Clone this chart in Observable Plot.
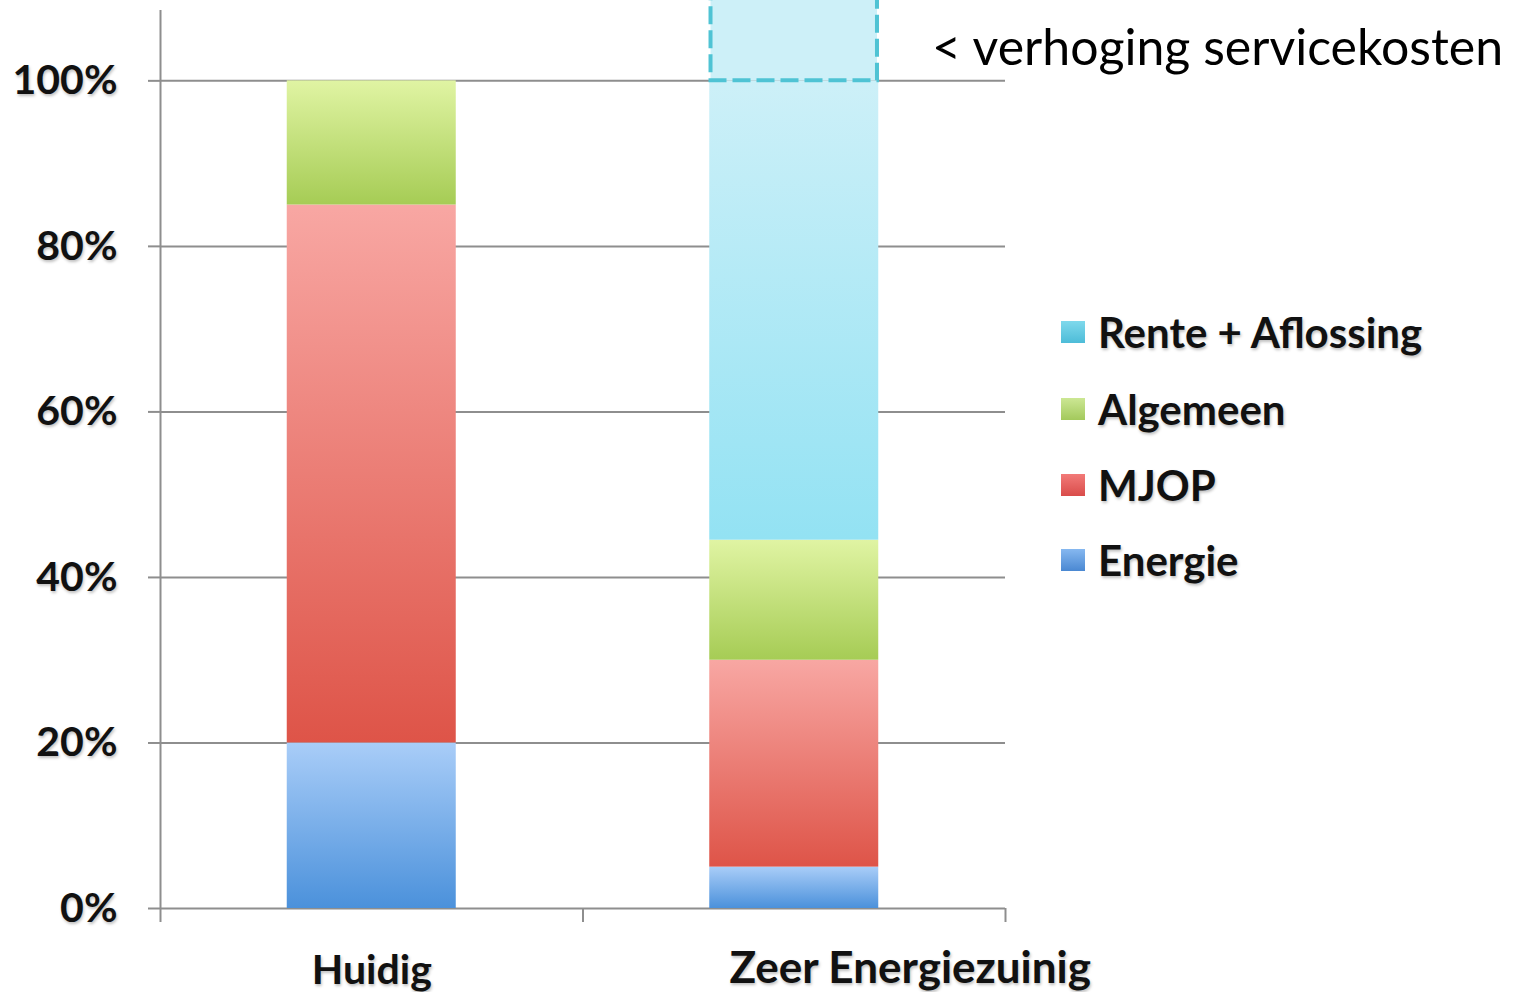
<!DOCTYPE html>
<html>
<head>
<meta charset="utf-8">
<script src="https://cdn.jsdelivr.net/npm/d3@7"></script>
<script src="https://cdn.jsdelivr.net/npm/@observablehq/plot@0.6"></script>
<style>
  body { margin: 0; background: #fff; }
  #chart { position: relative; width: 1521px; height: 992px; overflow: hidden; font-family: Lato, "Open Sans", sans-serif; }
  #chart > svg { position: absolute; left: 0; top: 0; }
  #chart svg text { text-shadow: 1px 2px 3px rgba(0,0,0,0.25); }
  .legend-item { position: absolute; left: 1061px; height: 40px; display: flex; align-items: center; }
  .legend-swatch { width: 24px; height: 22px; margin-right: 13px; }
  .legend-label { font-weight: 700; font-size: 42px; color: #111; text-shadow: 1px 2px 3px rgba(0,0,0,0.25); white-space: nowrap; }
  .note { position: absolute; left: 932px; top: 16px; font-size: 50px; line-height: 60px; color: #000; white-space: nowrap; }
</style>
</head>
<body>
<div id="chart"></div>
<script>
// Cost composition per scenario (share of current total service costs)
const categories = ["Huidig", "Zeer Energiezuinig"];
const seriesNames = ["Energie", "MJOP", "Algemeen", "Rente + Aflossing"]; // stacked bottom → top
const huidigShares = [0.20, 0.65, 0.15, 0.00];
const zeerShares = [0.05, 0.25, 0.145, 0.555];
const serviceIncrease = 0.11; // part above 100% for the energy-efficient scenario
const yTicks = [0, 0.2, 0.4, 0.6, 0.8, 1];
const legendOrder = ["Rente + Aflossing", "Algemeen", "MJOP", "Energie"];
const noteText = "< verhoging servicekosten";

// vertical gradient per series (top → bottom)
const topColors = ["#a9cdf8", "#f8a7a3", "#e0f4a3", "#cdf0f8"];
const bottomColors = ["#4b91db", "#de5448", "#a6cc55", "#93e2f3"];
const swatchTop = ["#86b8f0", "#f27a78", "#cce794", "#7fd9ec"];
const swatchBottom = ["#4a88d2", "#d94c4a", "#a3c95c", "#4dbcd8"];

const shares = [huidigShares, zeerShares];
const barHalf = 0.2; // half bar width in category units

// stacked rows
const rows = [];
categories.forEach((cat, ci) => {
  let acc = 0;
  seriesNames.forEach((s, si) => {
    const v = shares[ci][si];
    if (v > 0) rows.push({cat, ci, si, series: s, y1: acc, y2: acc + v});
    acc += v;
  });
});
const extra = [{cat: categories[1], ci: 1, y1: 1, y2: 1 + serviceIncrease}];

const gradId = i => `grad-${i}`;
const defs = () => {
  const d = d3.create("svg:defs");
  seriesNames.forEach((s, i) => {
    const g = d.append("linearGradient").attr("id", gradId(i))
      .attr("x1", 0).attr("y1", 0).attr("x2", 0).attr("y2", 1);
    g.append("stop").attr("offset", "0%").attr("stop-color", topColors[i]);
    g.append("stop").attr("offset", "100%").attr("stop-color", bottomColors[i]);
  });
  return d.node();
};

const gray = "#8e8e8e";
const labelStyle = {fontWeight: "bold", fill: "#111"};
const plot = Plot.plot({
  width: 1521,
  height: 992,
  marginLeft: 160,
  marginRight: 516,
  marginTop: 10,
  marginBottom: 84,
  x: {domain: [0, categories.length], axis: null},
  y: {domain: [0, 1.085], axis: null},
  color: {type: "identity"},
  style: {background: "transparent", overflow: "visible", fontFamily: "Lato, 'Open Sans', sans-serif"},
  marks: [
    defs,
    // gridlines
    Plot.ruleY(yTicks, {stroke: gray, strokeWidth: 2}),
    // stacked bars
    Plot.rect(rows, {
      x1: d => d.ci + 0.5 - barHalf,
      x2: d => d.ci + 0.5 + barHalf,
      y1: "y1", y2: "y2",
      fill: d => `url(#${gradId(d.si)})`
    }),
    // additional service costs above 100%
    Plot.rect(extra, {
      x1: d => d.ci + 0.5 - barHalf + 0.003,
      x2: d => d.ci + 0.5 + barHalf - 0.003,
      y1: "y1", y2: "y2",
      fill: "#cdf0f8",
      stroke: "#4fc3d4",
      strokeWidth: 4,
      strokeDasharray: "18,6"
    }),
    // y axis line and ticks
    Plot.ruleX([0], {stroke: gray, strokeWidth: 2}),
    Plot.axisY({ticks: yTicks, tickSize: 12, tickFormat: () => "", stroke: gray, strokeWidth: 2}),
    Plot.axisY({
      ticks: yTicks, tickSize: 0, tickPadding: 43,
      tickFormat: d3.format(".0%"),
      fontSize: 41, ...labelStyle
    }),
    // x axis ticks at category boundaries
    Plot.axisX({ticks: d3.range(categories.length + 1), tickSize: 14, tickFormat: () => "", stroke: gray, strokeWidth: 2}),
    // category labels
    Plot.axisX({
      ticks: [0.5], tickSize: 0, tickPadding: 46,
      tickFormat: d => categories[Math.floor(d)],
      fontSize: 41, ...labelStyle
    }),
    Plot.axisX({
      ticks: [1.5], tickSize: 0, tickPadding: 43, dx: 116,
      tickFormat: d => categories[Math.floor(d)],
      fontSize: 44, ...labelStyle
    })
  ]
});

const chart = document.getElementById("chart");
chart.appendChild(plot);

// legend
const legendTops = [312, 389, 465, 540];
legendOrder.forEach((name, k) => {
  const i = seriesNames.indexOf(name);
  const item = document.createElement("div");
  item.className = "legend-item";
  item.style.top = legendTops[k] + "px";
  const sw = document.createElement("div");
  sw.className = "legend-swatch";
  sw.style.background = `linear-gradient(${swatchTop[i]}, ${swatchBottom[i]})`;
  const lab = document.createElement("div");
  lab.className = "legend-label";
  lab.textContent = name;
  item.append(sw, lab);
  chart.appendChild(item);
});

// annotation
const note = document.createElement("div");
note.className = "note";
note.textContent = noteText;
chart.appendChild(note);
</script>
</body>
</html>
